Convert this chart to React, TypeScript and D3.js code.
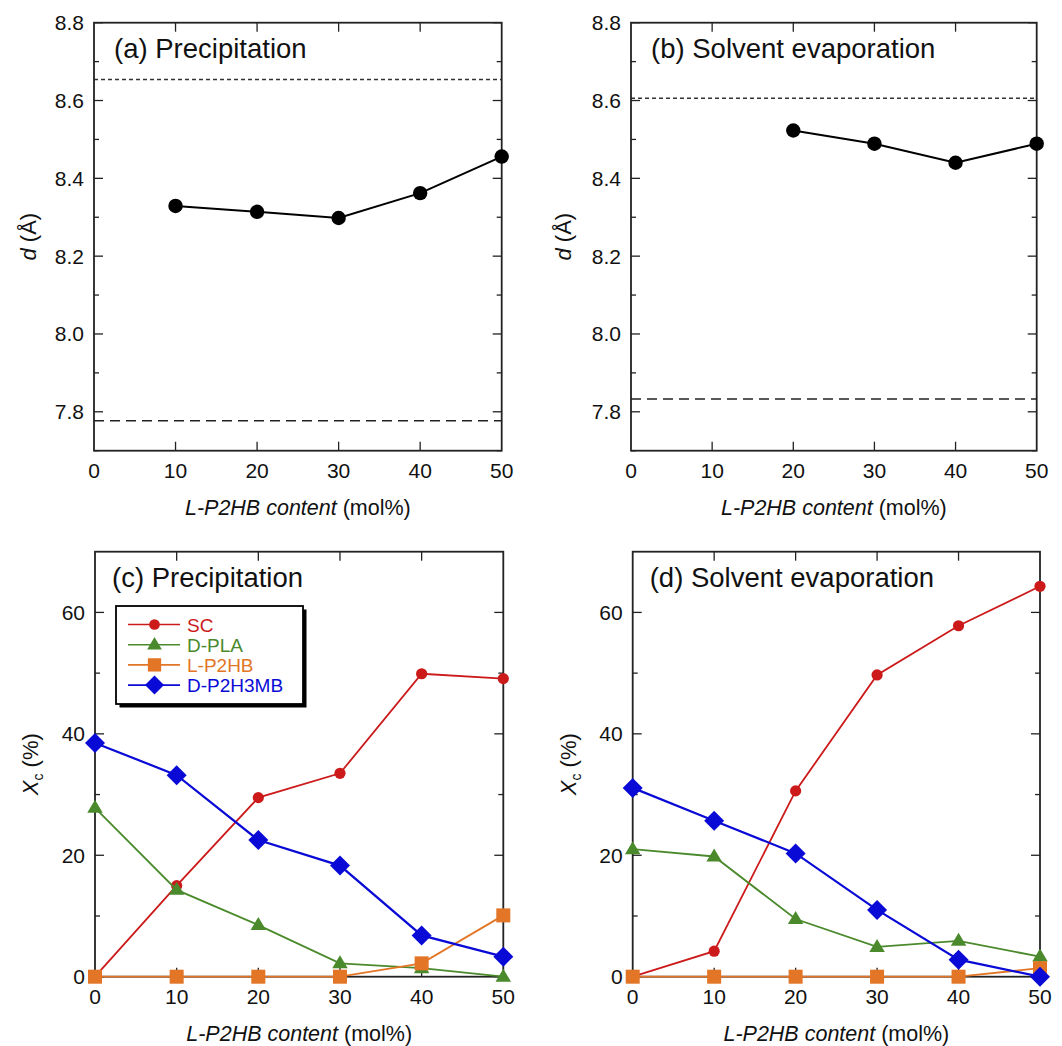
import React from "react";
import * as d3 from "d3";

// ---------- data ----------
const contentA = [10, 20, 30, 40, 50];
const dA = [8.329, 8.314, 8.298, 8.362, 8.456];
const contentB = [20, 30, 40, 50];
const dB = [8.523, 8.489, 8.44, 8.489];
const refDotted = [8.654, 8.606]; // panel a, panel b
const refDashed = [7.777, 7.833];

const contentCD = [0, 10, 20, 30, 40, 50];
const scC = [0, 15.0, 29.5, 33.5, 49.9, 49.1];
const dplaC = [27.8, 14.3, 8.5, 2.2, 1.4, 0];
const lp2hbC = [0, 0, 0, 0, 2.2, 10.1];
const dp2h3mbC = [38.5, 33.2, 22.5, 18.3, 6.8, 3.3];

const scD = [0, 4.2, 30.6, 49.7, 57.8, 64.3];
const dplaD = [21.0, 19.8, 9.5, 4.9, 5.9, 3.3];
const lp2hbD = [0, 0, 0, 0, 0, 1.4];
const dp2h3mbD = [31.1, 25.7, 20.3, 11.0, 2.8, 0];

const seriesNames = ["SC", "D-PLA", "L-P2HB", "D-P2H3MB"];
const seriesColors = ["#cc1a1a", "#4a8a2c", "#e27526", "#0a0ad6"];
const seriesShapes = ["circle", "triangle", "square", "diamond"];

const xTicks = [0, 10, 20, 30, 40, 50];
const dMajor = [7.8, 8.0, 8.2, 8.4, 8.6, 8.8];
const dMinor = [7.7, 7.9, 8.1, 8.3, 8.5, 8.7];
const xcMajor = [0, 20, 40, 60];
const xcMinor = [10, 30, 50];

const titles = ["(a) Precipitation", "(b) Solvent evaporation", "(c) Precipitation", "(d) Solvent evaporation"];

const FONT = "'Liberation Sans', Arial, Helvetica, sans-serif";
const FRAME = "#222";

type Box = { x0: number; x1: number; y0: number; y1: number };

function Marker({ shape, x, y, color, s = 1 }: { shape: string; x: number; y: number; color: string; s?: number }) {
  if (shape === "circle") return <circle cx={x} cy={y} r={5.6 * s} fill={color} />;
  if (shape === "triangle") {
    const h = 13 * s, w = 15.5 * s;
    return <path d={`M${x},${y - h * 0.62}L${x + w / 2},${y + h * 0.38}L${x - w / 2},${y + h * 0.38}Z`} fill={color} />;
  }
  if (shape === "square") {
    const a = 7 * s;
    return <rect x={x - a} y={y - a} width={2 * a} height={2 * a} fill={color} />;
  }
  const r = 10 * s;
  return <path d={`M${x},${y - r}L${x + r},${y}L${x},${y + r}L${x - r},${y}Z`} fill={color} />;
}

function Frame({ b, x, y, yMajor, yMinor, yFmt }: any) {
  const els: any[] = [];
  const maj = 9, mn = 5;
  xTicks.slice(1, -1).forEach((t, i) => {
    const px = x(t);
    els.push(<line key={"xb" + i} x1={px} x2={px} y1={b.y1} y2={b.y1 - maj} stroke={FRAME} strokeWidth={1.3} />);
    els.push(<line key={"xt" + i} x1={px} x2={px} y1={b.y0} y2={b.y0 + maj} stroke={FRAME} strokeWidth={1.3} />);
  });
  yMajor.forEach((t: number, i: number) => {
    const py = y(t);
    els.push(<line key={"yl" + i} x1={b.x0} x2={b.x0 + maj} y1={py} y2={py} stroke={FRAME} strokeWidth={1.3} />);
    els.push(<line key={"yr" + i} x1={b.x1} x2={b.x1 - maj} y1={py} y2={py} stroke={FRAME} strokeWidth={1.3} />);
  });
  yMinor.forEach((t: number, i: number) => {
    const py = y(t);
    els.push(<line key={"ml" + i} x1={b.x0} x2={b.x0 + mn} y1={py} y2={py} stroke={FRAME} strokeWidth={1.3} />);
    els.push(<line key={"mr" + i} x1={b.x1} x2={b.x1 - mn} y1={py} y2={py} stroke={FRAME} strokeWidth={1.3} />);
  });
  xTicks.forEach((t, i) => {
    els.push(
      <text key={"xl" + i} x={x(t)} y={b.y1 + 27.5} textAnchor="middle" fontSize={21} fontFamily={FONT} fill="#111">
        {t}
      </text>
    );
  });
  yMajor.forEach((t: number, i: number) => {
    els.push(
      <text key={"ylab" + i} x={b.x0 - 10} y={y(t) + 7.5} textAnchor="end" fontSize={21} fontFamily={FONT} fill="#111">
        {yFmt(t)}
      </text>
    );
  });
  els.push(<rect key="fr" x={b.x0} y={b.y0} width={b.x1 - b.x0} height={b.y1 - b.y0} fill="none" stroke={FRAME} strokeWidth={1.8} />);
  return <g>{els}</g>;
}

function XLabel({ b }: { b: Box }) {
  return (
    <text x={(b.x0 + b.x1) / 2} y={b.y1 + 64} textAnchor="middle" fontSize={21.5} fontFamily={FONT} fill="#111">
      <tspan fontStyle="italic">L-P2HB content</tspan>
      <tspan> (mol%)</tspan>
    </text>
  );
}

function DPanel({ b, xs, ys, dotted, dashed, title, ylx }: any) {
  const x = d3.scaleLinear().domain([0, 50]).range([b.x0, b.x1]);
  const y = d3.scaleLinear().domain([7.7, 8.8]).range([b.y1, b.y0]);
  const line = d3.line<number>().x((_, i) => x(xs[i])).y((v) => y(v));
  const cy = (b.y0 + b.y1) / 2;
  return (
    <g>
      <line x1={b.x0} x2={b.x1} y1={y(dotted)} y2={y(dotted)} stroke="#333" strokeWidth={1.4} strokeDasharray="4,3" />
      <line x1={b.x0} x2={b.x1} y1={y(dashed)} y2={y(dashed)} stroke="#222" strokeWidth={1.4} strokeDasharray="10,6" />
      <Frame b={b} x={x} y={y} yMajor={dMajor} yMinor={dMinor} yFmt={(t: number) => t.toFixed(1)} />
      <path d={line(ys) || ""} fill="none" stroke="#000" strokeWidth={2} />
      {ys.map((v: number, i: number) => (
        <circle key={i} cx={x(xs[i])} cy={y(v)} r={7.2} fill="#000" />
      ))}
      <text x={b.x0 + 20} y={b.y0 + 35.5} fontSize={27.5} fontFamily={FONT} fill="#111">
        {title}
      </text>
      <text transform={`translate(${ylx},${cy}) rotate(-90)`} textAnchor="middle" fontSize={22} fontFamily={FONT} fill="#111">
        <tspan fontStyle="italic">d</tspan>
        <tspan> (Å)</tspan>
      </text>
      <XLabel b={b} />
    </g>
  );
}

function XcPanel({ b, series, title, ylx, legend }: any) {
  const x = d3.scaleLinear().domain([0, 50]).range([b.x0, b.x1]);
  const y = d3.scaleLinear().domain([0, 70]).range([b.y1, b.y0]);
  const line = d3.line<number>().x((_, i) => x(contentCD[i])).y((v) => y(v));
  const cy = (b.y0 + b.y1) / 2;
  const lg = { x0: 116, y0: 606, x1: 303, y1: 704 };
  return (
    <g>
      <Frame b={b} x={x} y={y} yMajor={xcMajor} yMinor={xcMinor} yFmt={(t: number) => String(t)} />
      <text x={b.x0 + 17} y={b.y0 + 35} fontSize={27.5} fontFamily={FONT} fill="#111">
        {title}
      </text>
      {legend && (
        <g>
          <rect x={lg.x0 + 3.5} y={lg.y0 + 3.5} width={lg.x1 - lg.x0} height={lg.y1 - lg.y0} fill="#000" />
          <rect x={lg.x0} y={lg.y0} width={lg.x1 - lg.x0} height={lg.y1 - lg.y0} fill="#fff" stroke="#000" strokeWidth={1.8} />
          {seriesNames.map((n, i) => {
            const ry = 624.5 + i * 20.2;
            return (
              <g key={n}>
                <line x1={128} x2={180} y1={ry} y2={ry} stroke={seriesColors[i]} strokeWidth={1.6} />
                <Marker shape={seriesShapes[i]} x={154.5} y={ry} color={seriesColors[i]} s={0.95} />
                <text x={187} y={ry + 7} fontSize={19} fontFamily={FONT} fill={seriesColors[i]}>
                  {n}
                </text>
              </g>
            );
          })}
        </g>
      )}
      {series.map((vals: number[], si: number) => (
        <g key={si}>
          <path d={line(vals) || ""} fill="none" stroke={seriesColors[si]} strokeWidth={si === 3 ? 2.2 : 1.8} />
          {vals.map((v, i) => (
            <Marker key={i} shape={seriesShapes[si]} x={x(contentCD[i])} y={y(v)} color={seriesColors[si]} />
          ))}
        </g>
      ))}
      <text transform={`translate(${ylx},${cy}) rotate(-90)`} textAnchor="middle" fontSize={22} fontFamily={FONT} fill="#111">
        <tspan fontStyle="italic">X</tspan>
        <tspan fontSize={14} dy={5}>c</tspan>
        <tspan dy={-5}> (%)</tspan>
      </text>
      <XLabel b={b} />
    </g>
  );
}

export default function App() {
  const bA: Box = { x0: 94, x1: 501.7, y0: 22.7, y1: 450.7 };
  const bB: Box = { x0: 631, x1: 1036.7, y0: 22.7, y1: 450.7 };
  const bC: Box = { x0: 95, x1: 503.3, y0: 551.7, y1: 976.7 };
  const bD: Box = { x0: 632.7, x1: 1040, y0: 551.7, y1: 976.7 };
  return (
    <svg width={1062} height={1046} style={{ position: "absolute", left: 0, top: 0, background: "#fff" }}>
      <rect width={1062} height={1046} fill="#fff" />
      <DPanel b={bA} xs={contentA} ys={dA} dotted={refDotted[0]} dashed={refDashed[0]} title={titles[0]} ylx={36} />
      <DPanel b={bB} xs={contentB} ys={dB} dotted={refDotted[1]} dashed={refDashed[1]} title={titles[1]} ylx={571} />
      <XcPanel b={bC} series={[scC, dplaC, lp2hbC, dp2h3mbC]} title={titles[2]} ylx={38} legend={true} />
      <XcPanel b={bD} series={[scD, dplaD, lp2hbD, dp2h3mbD]} title={titles[3]} ylx={576} legend={false} />
    </svg>
  );
}
